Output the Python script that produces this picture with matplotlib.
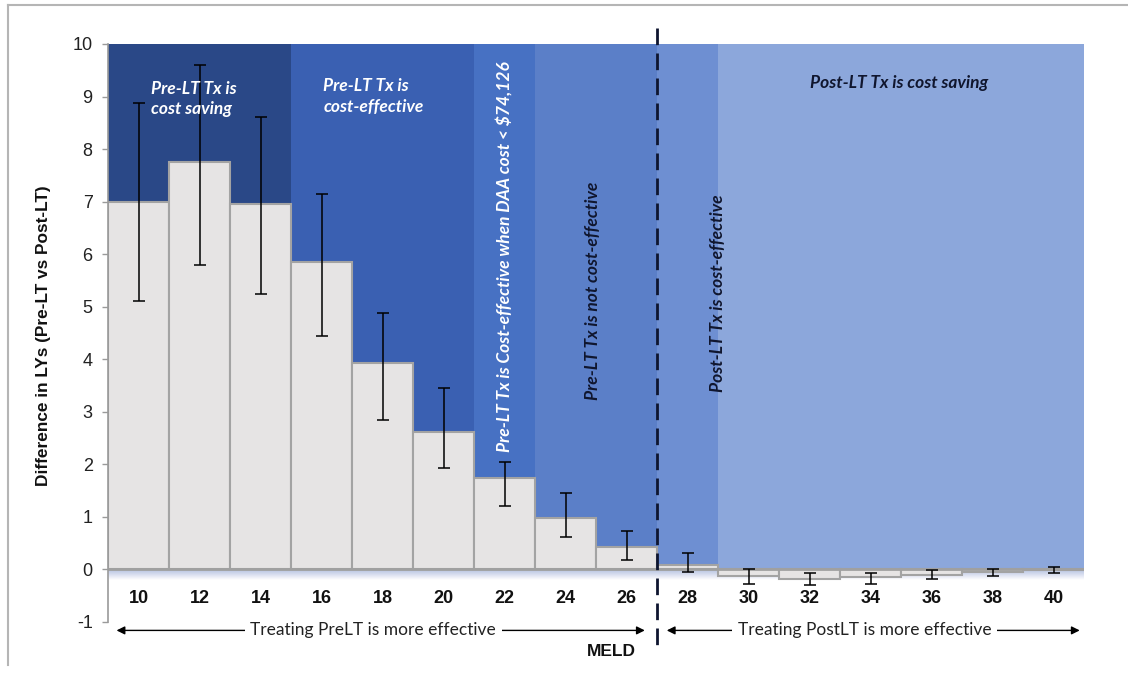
import matplotlib
matplotlib.use("Agg")
import matplotlib.pyplot as plt
import numpy as np
from matplotlib.colors import LinearSegmentedColormap
from matplotlib.lines import Line2D

# MELD categories and life-year differences (Pre-LT minus Post-LT treatment)
meld = [10, 12, 14, 16, 18, 20, 22, 24, 26, 28, 30, 32, 34, 36, 38, 40]
ly_diff = [7.0, 7.75, 6.95, 5.85, 3.92, 2.62, 1.75, 0.98, 0.42, 0.08,
           -0.13, -0.19, -0.14, -0.10, -0.05, -0.01]
ci_low = [5.1, 5.8, 5.25, 4.45, 2.85, 1.93, 1.2, 0.62, 0.18, -0.05,
          -0.27, -0.30, -0.28, -0.19, -0.13, -0.06]
ci_high = [8.87, 9.6, 8.62, 7.15, 4.88, 3.45, 2.05, 1.45, 0.73, 0.31,
           0.0, -0.06, -0.06, -0.01, 0.0, 0.04]

# Cost-effectiveness zone for each MELD category
zone_of_meld = [0, 0, 0, 1, 1, 1, 2, 3, 3, 4, 5, 5, 5, 5, 5, 5]
zone_colors = ["#2A4887", "#3A60B2", "#4771C3", "#5B7FC8", "#6E8FD2", "#8CA7DB"]
zone_ceiling = 10

yticks = list(range(-1, 11))

arrow_left_text = "Treating PreLT is more effective"
arrow_right_text = "Treating PostLT is more effective"

fig = plt.figure(figsize=(11.28, 6.77), dpi=100)
fig.patch.set_facecolor("white")
ax = fig.add_axes([108 / 1128, 1 - 622 / 677, 976 / 1128, 578 / 677])
ax.set_facecolor("none")

x = np.arange(len(meld))

# shaded zones behind the bars
ax.bar(x, [zone_ceiling] * len(x), width=1.0,
       color=[zone_colors[z] for z in zone_of_meld], edgecolor="none", zorder=1)

# soft shadow just under the zero line
shadow_cmap = LinearSegmentedColormap.from_list("shadow", ["#ffffff", "#b3bfe0"])
grad = np.linspace(0, 1, 50).reshape(-1, 1)
ax.imshow(grad, extent=(-0.5, len(x) - 0.5, -0.2, 0), aspect="auto",
          cmap=shadow_cmap, origin="lower", zorder=1.5)

# difference bars
ax.bar(x, ly_diff, width=1.0, color="#E6E4E4", edgecolor="#A3A3A3",
       linewidth=1.5, zorder=2)
ax.axhline(0, color="#A0A0A0", lw=2, zorder=2.5)

# uncertainty ranges
lo = np.array(ly_diff) - np.array(ci_low)
hi = np.array(ci_high) - np.array(ly_diff)
ax.errorbar(x, ly_diff, yerr=[lo, hi], fmt="none", ecolor="black",
            elinewidth=1.1, capsize=4, capthick=1.1, zorder=3)

ax.set_xlim(-0.5, len(x) - 0.5)
ax.set_ylim(-1, 10)
ax.set_yticks(yticks)
ax.set_yticklabels([str(t) for t in yticks], fontsize=13,
                   family="Liberation Sans", color="#222222")
ax.tick_params(axis="y", direction="out", length=4, width=1, color="#9A9A9A", pad=7)
ax.set_xticks([])
for s in ["top", "right", "bottom"]:
    ax.spines[s].set_visible(False)
ax.spines["left"].set_color("#9A9A9A")
ax.spines["left"].set_linewidth(1.2)

# MELD labels under the zero line
for xi, m in zip(x, meld):
    ax.text(xi, -0.56, str(m), ha="center", va="center", fontsize=13,
            fontweight="bold", family="Liberation Sans", color="#111111")

# zone captions
cap_kw = dict(family="Lato", style="italic", fontweight="bold", fontsize=12.5)
ax.text(0.2, 9.3, "Pre-LT Tx is\ncost saving", color="white", ha="left",
        va="top", linespacing=1.35, **cap_kw)
ax.text(3.03, 9.35, "Pre-LT Tx is\ncost-effective", color="white", ha="left",
        va="top", linespacing=1.35, **cap_kw)
ax.text(6.0, 5.95, "Pre-LT Tx is Cost-effective when DAA cost < $74,126",
        color="white", rotation=90, ha="center", va="center", **cap_kw)
ax.text(7.45, 5.3, "Pre-LT Tx is not cost-effective", color="#10162E",
        rotation=90, ha="center", va="center", **cap_kw)
ax.text(9.5, 5.25, "Post-LT Tx is cost-effective", color="#10162E",
        rotation=90, ha="center", va="center", **cap_kw)
ax.text(12.47, 9.25, "Post-LT Tx is cost saving", color="#10162E",
        ha="center", va="center", **cap_kw)

# threshold between strategies
ax.plot([8.5, 8.5], [10.3, -1.55], color="#0E1530", lw=2, dashes=(6, 3),
        clip_on=False, zorder=4)

# direction arrows
arrow_kw = dict(arrowstyle="<|-|>", color="black", lw=1, mutation_scale=12,
                shrinkA=0, shrinkB=0)
ax.annotate("", xy=(-0.36, -1.16), xytext=(8.3, -1.16),
            arrowprops=arrow_kw, annotation_clip=False)
ax.text(3.85, -1.16, arrow_left_text, ha="center", va="center", fontsize=12.5,
        family="Lato", color="#222222",
        bbox=dict(facecolor="white", edgecolor="none", pad=4), zorder=5)
ax.annotate("", xy=(8.66, -1.16), xytext=(15.43, -1.16),
            arrowprops=arrow_kw, annotation_clip=False)
ax.text(11.9, -1.16, arrow_right_text, ha="center", va="center", fontsize=12.5,
        family="Lato", color="#222222",
        bbox=dict(facecolor="white", edgecolor="none", pad=4), zorder=5)
ax.text(7.75, -1.57, "MELD", ha="center", va="center", fontsize=12.5,
        fontweight="bold", family="Liberation Sans", color="#111111")

fig.text(44 / 1128, 1 - 336 / 677, "Difference in LYs (Pre-LT vs Post-LT)",
         rotation=90, ha="center", va="center", fontsize=12.4,
         fontweight="bold", family="Liberation Sans", color="#111111")

# outer frame lines
fig.add_artist(Line2D([8 / 1128, 1.0], [1 - 5 / 677, 1 - 5 / 677],
                      color="#B5B5B5", lw=1.5))
fig.add_artist(Line2D([8 / 1128, 8 / 1128], [1 - 5 / 677, 1 - 665 / 677],
                      color="#B5B5B5", lw=1.5))

fig.savefig("out.png", dpi=100)
